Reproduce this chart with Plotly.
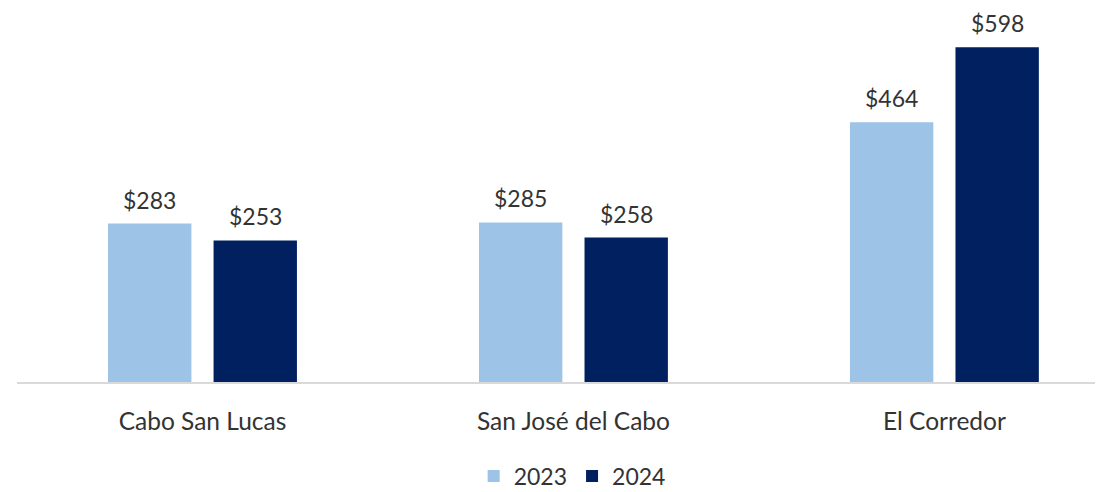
import plotly.graph_objects as go

categories = ["Cabo San Lucas", "San José del Cabo", "El Corredor"]
values_2023 = [283, 285, 464]
values_2024 = [253, 258, 598]
series_names = ["2023", "2024"]

colors = ["#9DC3E6", "#002060"]
font_family = "Lato, 'Open Sans', sans-serif"
text_color = "#333333"

fig = go.Figure()
for name, vals, col in zip(series_names, [values_2023, values_2024], colors):
    fig.add_trace(go.Bar(
        x=categories,
        y=vals,
        name=name,
        marker=dict(color=col, line=dict(width=0)),
    ))

# value labels above the bars
offset = 0.142
for i, cat in enumerate(categories):
    for j, vals in enumerate([values_2023, values_2024]):
        fig.add_annotation(
            x=i + (-offset if j == 0 else offset),
            y=vals[i],
            text=f"${vals[i]}",
            showarrow=False,
            yanchor="bottom",
            yshift=9,
            borderpad=0,
            font=dict(family=font_family, size=23, color=text_color),
        )

fig.update_layout(
    width=1109,
    height=492,
    barmode="group",
    bargap=0.431,
    bargroupgap=0.21,
    plot_bgcolor="white",
    paper_bgcolor="white",
    margin=dict(l=9, r=22, t=4, b=118, autoexpand=False),
    font=dict(family=font_family, size=23, color=text_color),
    showlegend=True,
    legend=dict(
        orientation="h",
        x=0.515,
        xanchor="center",
        y=0.005,
        yref="container",
        yanchor="bottom",
        font=dict(family=font_family, size=23, color=text_color),
        itemwidth=30,
    ),
    xaxis=dict(
        showline=True,
        linecolor="#D9D9D9",
        linewidth=2,
        showgrid=False,
        ticks="",
        ticklabelstandoff=17,
        range=[-0.5, 2.406],
        tickfont=dict(family=font_family, size=24.5, color=text_color),
    ),
    yaxis=dict(
        range=[0, 661],
        showgrid=False,
        showticklabels=False,
        zeroline=False,
        showline=False,
    ),
)

fig.write_html("out.html")
